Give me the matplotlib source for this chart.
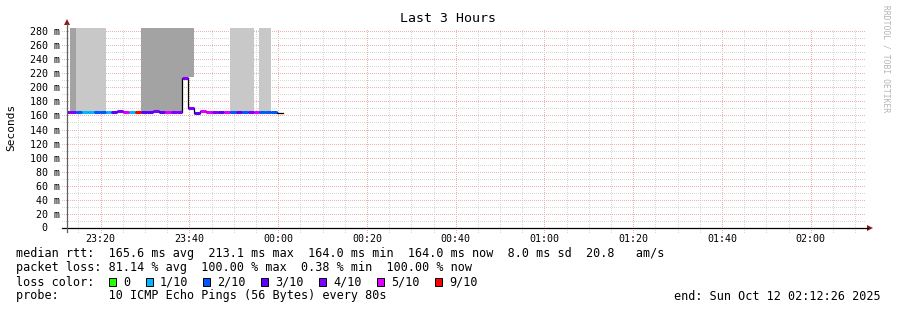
import matplotlib
matplotlib.use("Agg")
import matplotlib.pyplot as plt
from matplotlib.lines import Line2D
from matplotlib.patches import Rectangle, Polygon

W, H = 897, 310
MONO = "DejaVu Sans Mono"

# time axis in minutes relative to 00:00 (Oct 12); graph spans 23:12:26 .. 02:12:26
t_left = -47.57
t_right = 132.43
step = 80 / 60.0            # one sample every 80 s
t_first = -48.22            # start of the first (clipped) sample

# per-sample data (80 s steps)
median_ms = [164.6, 164.6, 164.6, 164.6, 164.6, 164.6, 164.6, 164.6, 164.6, 165.8,
             164.6, 164.6, 164.6, 164.6, 164.6, 165.8, 164.6, 164.6, 164.6, 164.6,
             213.1, 170.0, 164.0, 165.8, 164.6, 164.6, 164.6, 164.6, 164.6, 164.6,
             164.6, 164.6, 164.6, 164.6, 164.6, 164.6, 164.0]
loss = [4, 4, 2, 1, 1, 2, 2, 1, 3, 4,
        5, 1, 9, 3, 3, 4, 3, 5, 4, 4,
        4, 4, 3, 5, 5, 4, 3, 5, 2, 3,
        2, 4, 5, 2, 2, 2, None]
smoke = [0, 2, 1, 1, 1, 1, 1, 0, 0, 0,
         0, 0, 0, 2, 2, 2, 2, 2, 2, 2,
         2, 2, 0, 0, 0, 0, 0, 0, 1, 1,
         1, 1, 0, 1, 1, 0, 0]
smoke_floor = {20: 215.0, 21: 215.0}
smoke_top = 300.0

loss_colors = {0: "#26ff00", 1: "#00b8ff", 2: "#0059ff", 3: "#5e00ff",
               4: "#7e00ff", 5: "#dd00ff", 9: "#ff0000"}
loss_labels = {0: "0", 1: "1/10", 2: "2/10", 3: "3/10", 4: "4/10", 5: "5/10", 9: "9/10"}
smoke_colors = {1: "#c8c8c8", 2: "#a3a3a3"}

x_major = [-40, -20, 0, 20, 40, 60, 80, 100, 120]
x_labels = ["23:20", "23:40", "00:00", "00:20", "00:40", "01:00", "01:20", "01:40", "02:00"]
x_minor = list(range(-45, 131, 5))
y_major = list(range(20, 281, 20))
y_minor = list(range(10, 281, 20))

stats_line = "median rtt:  165.6 ms avg  213.1 ms max  164.0 ms min  164.0 ms now  8.0 ms sd  20.8   am/s"
loss_line = "packet loss: 81.14 % avg  100.00 % max  0.38 % min  100.00 % now"
probe_line = "probe:       10 ICMP Echo Pings (56 Bytes) every 80s"
end_line = "end: Sun Oct 12 02:12:26 2025"


def fx(x):
    return x / W


def fy(y):
    return 1 - y / H


fig = plt.figure(figsize=(W / 100, H / 100), dpi=100)
fig.patch.set_facecolor("white")
ax = fig.add_axes([fx(67), fy(228), (866 - 67) / W, 200 / H])
ax.set_xlim(t_left, t_right)
ax.set_ylim(0, 284.3)
for s in ax.spines.values():
    s.set_visible(False)

# grid (1 px dots, 2 px gaps)
minor_kw = dict(color="#d8d8d8", lw=0.72, ls=(0, (1, 2)), clip_on=False, zorder=0, antialiased=False)
major_kw = dict(color="#f3b0b0", lw=0.72, ls=(0, (1, 2)), clip_on=False, zorder=0, antialiased=False)
for v in x_minor:
    if v not in x_major:
        ax.axvline(v, ymin=-0.02, ymax=1, **minor_kw)
for v in x_major:
    ax.axvline(v, ymin=-0.02, ymax=1, **major_kw)
for v in y_minor:
    ax.axhline(v, xmin=-5 / 799, xmax=1, **minor_kw)
for v in y_major:
    ax.axhline(v, xmin=-5 / 799, xmax=1, **major_kw)

starts = [t_first + i * step for i in range(len(median_ms))]

# smoke
for i, t in enumerate(starts):
    if smoke[i]:
        lo = smoke_floor.get(i, median_ms[i])
        ax.bar(t, smoke_top - lo, width=step, bottom=lo, align="edge",
               color=smoke_colors[smoke[i]], lw=0, zorder=1)

# black median line
ax.step(starts + [starts[-1] + step], median_ms + [median_ms[-1]], where="post",
        color="black", lw=0.9, zorder=2)

# loss coloured median segments
for i, t in enumerate(starts):
    if loss[i] is not None:
        ax.hlines(median_ms[i], t, t + step, colors=loss_colors[loss[i]], lw=2.2,
                  zorder=3)

ax.set_xticks(x_major, x_labels, fontfamily=MONO, fontsize=7.2)
ax.set_yticks(y_major, [f"{v} m" for v in y_major], fontfamily=MONO, fontsize=7.2)
ax.tick_params(axis="x", length=0, pad=4)
ax.tick_params(axis="y", length=0, pad=5)
ax.text(fx(47), fy(228), "0", transform=fig.transFigure, ha="right", va="center",
        fontfamily=MONO, fontsize=7.2)

# axes with arrows
fig.add_artist(Line2D([fx(62), fx(868)], [fy(228), fy(228)], color="black", lw=0.9))
fig.add_artist(Line2D([fx(67), fx(67)], [fy(232), fy(24)], color="#606060", lw=0.9))
fig.add_artist(Polygon([(fx(867), fy(225)), (fx(867), fy(231)), (fx(873), fy(228))],
                       closed=True, color="#8b1a1a", lw=0))
fig.add_artist(Polygon([(fx(64), fy(25)), (fx(70), fy(25)), (fx(67), fy(19))],
                       closed=True, color="#8b1a1a", lw=0))

# titles
fig.text(fx(448), fy(19), "Last 3 Hours", ha="center", va="center", fontfamily=MONO, fontsize=9.5)
fig.text(fx(11), fy(127), "Seconds", ha="center", va="center", rotation=90,
         fontfamily=MONO, fontsize=8)
fig.text(fx(886), fy(59), "RRDTOOL / TOBI OETIKER", ha="center", va="center", rotation=270,
         fontfamily=MONO, fontsize=5.8, color="#b4b4b4")

# legend
fig.text(fx(16), fy(254), stats_line, ha="left", va="center", fontfamily=MONO, fontsize=8.5)
fig.text(fx(16), fy(268), loss_line, ha="left", va="center", fontfamily=MONO, fontsize=8.5)
fig.text(fx(16), fy(282), "loss color:", ha="left", va="center", fontfamily=MONO, fontsize=8.5)
box_x = [109, 146, 203, 261, 319, 377, 435]
for bx, key in zip(box_x, loss_colors):
    fig.add_artist(Rectangle((fx(bx), fy(286)), 7 / W, 8 / H, transform=fig.transFigure,
                             facecolor=loss_colors[key], edgecolor="black", lw=0.7))
    fig.text(fx(bx + 14), fy(282), loss_labels[key], ha="left", va="center",
             fontfamily=MONO, fontsize=8.5)
fig.text(fx(16), fy(296), probe_line, ha="left", va="center", fontfamily=MONO, fontsize=8.5)
fig.text(fx(881), fy(296), end_line, ha="right", va="center", fontfamily=MONO, fontsize=8.5)

fig.savefig("out.png", dpi=100, facecolor="white")
